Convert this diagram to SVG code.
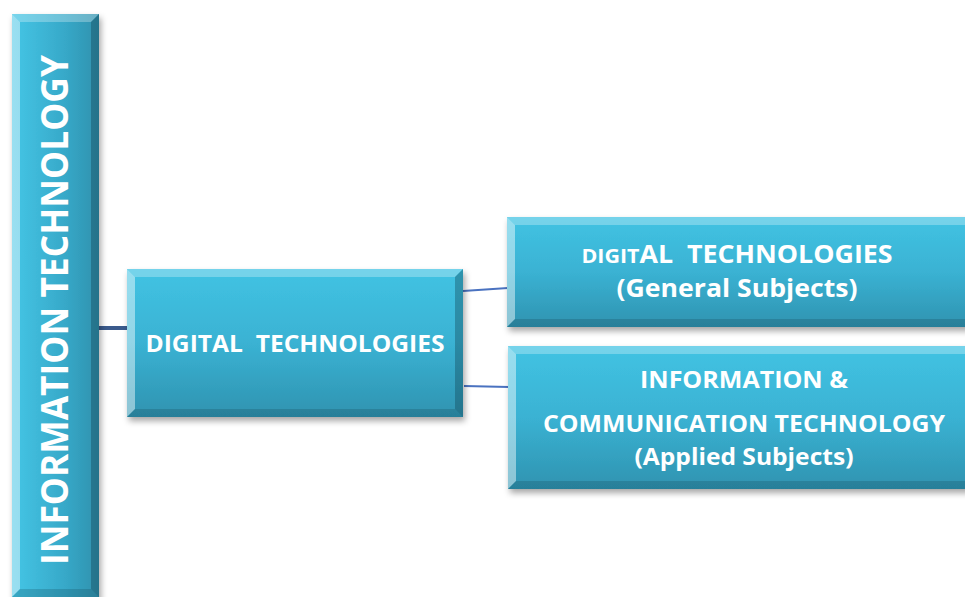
<svg xmlns="http://www.w3.org/2000/svg" width="965" height="597" viewBox="0 0 965 597">
<defs>
<linearGradient id="boxg" x1="0" y1="0" x2="0" y2="1">
<stop offset="0" stop-color="#41c3e3"/>
<stop offset="0.5" stop-color="#3ab2d3"/>
<stop offset="1" stop-color="#2f93b0"/>
</linearGradient>
<linearGradient id="barg" x1="0" y1="0" x2="1" y2="0">
<stop offset="0" stop-color="#45c6e6"/>
<stop offset="0.6" stop-color="#37a9c9"/>
<stop offset="1" stop-color="#2f91ad"/>
</linearGradient>
<filter id="sh" x="-10%" y="-10%" width="120%" height="130%">
<feDropShadow dx="2" dy="4" stdDeviation="3" flood-color="#000" flood-opacity="0.35"/>
</filter>
<style>
.t{font-family:"Open Sans","Liberation Sans",sans-serif;font-weight:bold;fill:#fff;text-anchor:middle}
.hl{fill:#ffffff;opacity:0.28}
.hl2{fill:#ffffff;opacity:0.45}
.dk{fill:#0d3b4a;opacity:0.35}
.dk2{fill:#0d3b4a;opacity:0.22}
</style>
</defs>

<g id="connectors">
<line x1="99" y1="328" x2="128" y2="328" stroke="#3a5a8c" stroke-width="4"/>
<line x1="463" y1="291" x2="508" y2="288" stroke="#4a72c0" stroke-width="2"/>
<line x1="464" y1="386" x2="509" y2="387" stroke="#4a72c0" stroke-width="2"/>
</g>

<g id="node-it">
<rect x="12" y="14" width="87" height="586" fill="url(#barg)" filter="url(#sh)"/>
<polygon class="hl" points="12,14 99,14 91,22 20,22"/>
<polygon class="hl2" points="12,14 20,22 20,589 12,597"/>
<polygon class="dk" points="99,14 99,597 91,589 91,22"/>
<polygon class="dk2" points="12,597 99,597 91,589 20,589"/>
<text class="t" transform="translate(68,310) rotate(-90)" font-size="38" textLength="510" lengthAdjust="spacingAndGlyphs">INFORMATION TECHNOLOGY</text>
</g>

<g id="node-dt">
<rect x="127" y="269" width="336" height="148" fill="url(#boxg)" filter="url(#sh)"/>
<polygon class="hl" points="127,269 463,269 455,277 135,277"/>
<polygon class="hl2" points="127,269 135,277 135,409 127,417"/>
<polygon class="dk" points="463,269 463,417 455,409 455,277"/>
<polygon class="dk2" points="127,417 463,417 455,409 135,409"/>
<text class="t" x="295" y="352" font-size="24" textLength="299" lengthAdjust="spacingAndGlyphs" xml:space="preserve">DIGITAL  TECHNOLOGIES</text>
</g>

<g id="node-general">
<rect x="507" y="217" width="470" height="110" fill="url(#boxg)" filter="url(#sh)"/>
<polygon class="hl" points="507,217 977,217 969,225 515,225"/>
<polygon class="hl2" points="507,217 515,225 515,319 507,327"/>
<polygon class="dk2" points="507,327 977,327 969,319 515,319"/>
<text class="t" x="737" y="263" font-size="25" textLength="311" lengthAdjust="spacingAndGlyphs" xml:space="preserve"><tspan font-size="20">DIGIT</tspan>AL  TECHNOLOGIES</text>
<text class="t" x="737" y="297" font-size="25" textLength="241" lengthAdjust="spacingAndGlyphs">(General Subjects)</text>
</g>

<g id="node-ict">
<rect x="508" y="346" width="470" height="143" fill="url(#boxg)" filter="url(#sh)"/>
<polygon class="hl" points="508,346 978,346 970,354 516,354"/>
<polygon class="hl2" points="508,346 516,354 516,481 508,489"/>
<polygon class="dk2" points="508,489 978,489 970,481 516,481"/>
<text class="t" x="744" y="388" font-size="23" textLength="208" lengthAdjust="spacingAndGlyphs">INFORMATION &amp;</text>
<text class="t" x="744" y="432" font-size="23" textLength="402" lengthAdjust="spacingAndGlyphs">COMMUNICATION TECHNOLOGY</text>
<text class="t" x="744" y="465" font-size="23" textLength="219" lengthAdjust="spacingAndGlyphs">(Applied Subjects)</text>
</g>
</svg>
